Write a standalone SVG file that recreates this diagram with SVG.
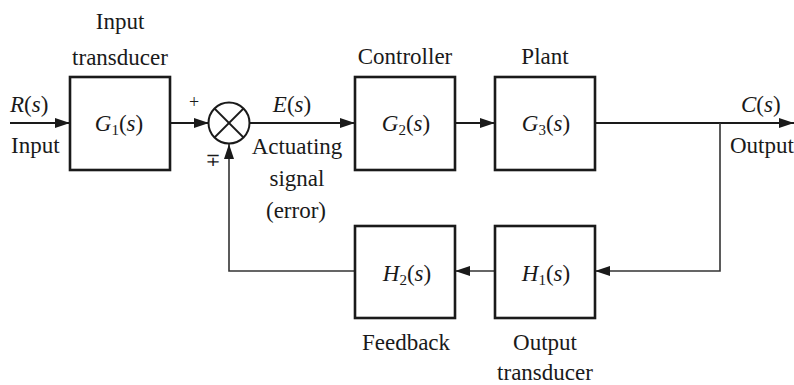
<svg xmlns="http://www.w3.org/2000/svg" width="794" height="385" viewBox="0 0 794 385">
<style>
text{font-family:"Liberation Serif","Tinos","Times New Roman","DejaVu Serif",serif;font-size:23px;fill:#1a1a1a}
.m{font-style:italic}
.sub{font-size:15px;font-style:normal}
.box{fill:#fff;stroke:#1a1a1a;stroke-width:2.6}
.ln{fill:none;stroke:#1a1a1a;stroke-width:2}
.fb{fill:none;stroke:#333;stroke-width:1.6}
</style>
<defs>
<marker id="ah" markerUnits="userSpaceOnUse" markerWidth="16" markerHeight="12" refX="15" refY="5" orient="auto">
<path d="M0,0 L15,5 L0,10 Z" fill="#1a1a1a"/>
</marker>
</defs>
<rect width="794" height="385" fill="#fff"/>
<g id="connectors">
<line class="ln" x1="10" y1="123" x2="70" y2="123" marker-end="url(#ah)"/>
<line class="ln" x1="170" y1="123" x2="209" y2="123" marker-end="url(#ah)"/>
<line class="ln" x1="250" y1="123" x2="355" y2="123" marker-end="url(#ah)"/>
<line class="ln" x1="455" y1="123" x2="495" y2="123" marker-end="url(#ah)"/>
<line class="ln" x1="595" y1="123" x2="794" y2="123" marker-end="url(#ah)"/>
<polyline class="fb" points="720,123 720,271 595,271" marker-end="url(#ah)"/>
<line class="fb" x1="495" y1="271" x2="455" y2="271" marker-end="url(#ah)"/>
<polyline class="fb" points="355,271 229,271 229,144" marker-end="url(#ah)"/>
</g>
<g id="input">
<text x="10" y="112"><tspan class="m">R</tspan>(<tspan class="m">s</tspan>)</text>
<text x="11" y="153">Input</text>
</g>
<g id="G1">
<text x="120" y="29" text-anchor="middle">Input</text>
<text x="120" y="65" text-anchor="middle">transducer</text>
<rect class="box" x="70" y="77" width="100" height="93"/>
<text x="119" y="131" text-anchor="middle"><tspan class="m">G</tspan><tspan class="sub" dy="4">1</tspan><tspan dy="-4">(</tspan><tspan class="m">s</tspan>)</text>
</g>
<g id="sum">
<circle cx="229" cy="123" r="20.5" fill="#fff" stroke="#1a1a1a" stroke-width="2"/>
<line x1="214.5" y1="108.5" x2="243.5" y2="137.5" stroke="#1a1a1a" stroke-width="1.8"/>
<line x1="243.5" y1="108.5" x2="214.5" y2="137.5" stroke="#1a1a1a" stroke-width="1.8"/>
<text x="194" y="108" text-anchor="middle" style="font-size:18px">+</text>
<text x="213" y="166" text-anchor="middle" style="font-size:18px">∓</text>
</g>
<g id="error">
<text x="292" y="112" text-anchor="middle"><tspan class="m">E</tspan>(<tspan class="m">s</tspan>)</text>
<text x="297" y="154" text-anchor="middle">Actuating</text>
<text x="297" y="186" text-anchor="middle">signal</text>
<text x="296" y="218" text-anchor="middle">(error)</text>
</g>
<g id="G2">
<text x="405" y="64" text-anchor="middle">Controller</text>
<rect class="box" x="355" y="77" width="100" height="93"/>
<text x="406" y="131" text-anchor="middle"><tspan class="m">G</tspan><tspan class="sub" dy="4">2</tspan><tspan dy="-4">(</tspan><tspan class="m">s</tspan>)</text>
</g>
<g id="G3">
<text x="545" y="64" text-anchor="middle">Plant</text>
<rect class="box" x="495" y="77" width="100" height="93"/>
<text x="546" y="131" text-anchor="middle"><tspan class="m">G</tspan><tspan class="sub" dy="4">3</tspan><tspan dy="-4">(</tspan><tspan class="m">s</tspan>)</text>
</g>
<g id="output">
<text x="741" y="112"><tspan class="m">C</tspan>(<tspan class="m">s</tspan>)</text>
<text x="730" y="153">Output</text>
</g>
<g id="H2">
<rect class="box" x="355" y="226" width="100" height="92"/>
<text x="407" y="281" text-anchor="middle"><tspan class="m">H</tspan><tspan class="sub" dy="4">2</tspan><tspan dy="-4">(</tspan><tspan class="m">s</tspan>)</text>
<text x="406" y="350" text-anchor="middle">Feedback</text>
</g>
<g id="H1">
<rect class="box" x="495" y="226" width="100" height="92"/>
<text x="546" y="281" text-anchor="middle"><tspan class="m">H</tspan><tspan class="sub" dy="4">1</tspan><tspan dy="-4">(</tspan><tspan class="m">s</tspan>)</text>
<text x="545" y="350" text-anchor="middle">Output</text>
<text x="545" y="380" text-anchor="middle">transducer</text>
</g>
</svg>
